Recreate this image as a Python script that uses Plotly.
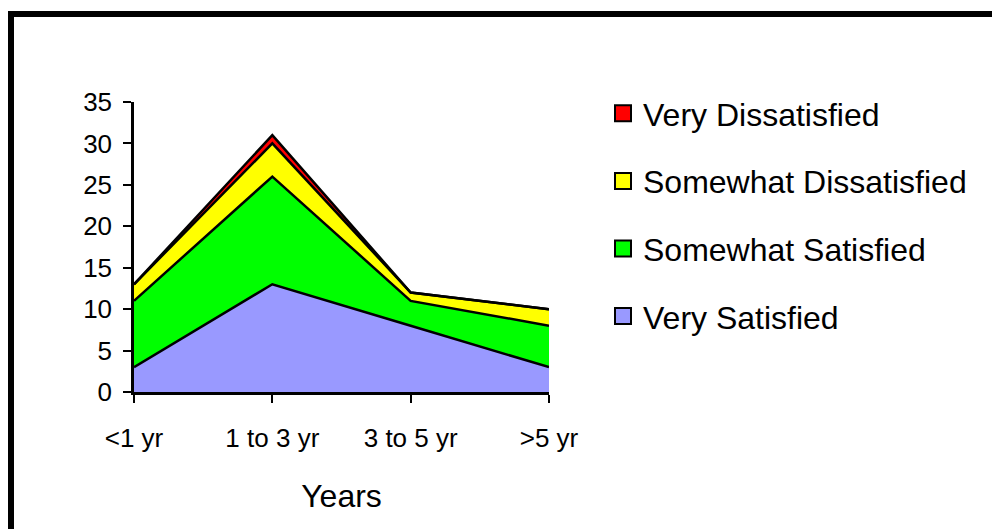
import plotly.graph_objects as go

categories = ["<1 yr", "1 to 3 yr", "3 to 5 yr", ">5 yr"]
very_satisfied = [3, 13, 8, 3]
somewhat_satisfied = [8, 13, 3, 5]
somewhat_dissatisfied = [2, 4, 1, 2]
very_dissatisfied = [0, 1, 0, 0]
y_ticks = [0, 5, 10, 15, 20, 25, 30, 35]

series = [
    ("Very Satisfied", very_satisfied, "#9999FF"),
    ("Somewhat Satisfied", somewhat_satisfied, "#00FF00"),
    ("Somewhat Dissatisfied", somewhat_dissatisfied, "#FFFF00"),
    ("Very Dissatisfied", very_dissatisfied, "#FF0000"),
]

FONT = "Arial, Liberation Sans, sans-serif"
fig = go.Figure()

for name, vals, col in series:
    fig.add_trace(go.Scatter(
        x=categories, y=vals, name=name, stackgroup="one", mode="lines",
        line=dict(color="black", width=2.5), fillcolor=col, showlegend=False,
    ))

# legend entries (top to bottom)
for i, (name, vals, col) in enumerate(reversed(series)):
    fig.add_trace(go.Scatter(
        x=[categories[0]], y=[None], name=name, mode="markers",
        marker=dict(symbol="square", size=16, color=col, line=dict(color="black", width=2)),
        legendgroup=f"g{i}", showlegend=True,
    ))

W, H = 992, 521
L, T, PW, PH = 126, 94, 415, 290
R = W - L - PW
B = H - T - PH
bottom = T + PH

fig.update_layout(
    width=W, height=H,
    margin=dict(l=L, r=R, t=T, b=B),
    paper_bgcolor="white", plot_bgcolor="white",
    font=dict(family=FONT, color="black"),
    showlegend=True,
    legend=dict(
        x=(595 - L) / PW, xanchor="left", y=(bottom - 78) / PH, yanchor="top",
        font=dict(size=32, family=FONT), traceorder="grouped",
        tracegroupgap=23, itemsizing="trace", bgcolor="rgba(0,0,0,0)",
    ),
    xaxis=dict(
        range=[0, 3], type="category", showline=True, linecolor="black", linewidth=2.5,
        ticks="outside", ticklen=8, tickwidth=2, tickcolor="black",
        showgrid=False, zeroline=False, tickfont=dict(size=26),
        ticklabelstandoff=13,
        title=dict(text="Years", font=dict(size=32), standoff=33),
    ),
    yaxis=dict(
        range=[0, 35], tickvals=y_ticks, showline=True, linecolor="black", linewidth=2.5,
        ticks="outside", ticklen=8, tickwidth=2, tickcolor="black",
        showgrid=False, zeroline=False, tickfont=dict(size=26),
        ticklabelstandoff=6,
    ),
    shapes=[dict(
        type="rect", xref="paper", yref="paper",
        x0=(3 - L) / PW, x1=(1010 - L) / PW,
        y0=(bottom - 545) / PH, y1=(bottom - 6) / PH,
        line=dict(color="black", width=6), fillcolor="rgba(0,0,0,0)",
    )],
)

fig.write_html("out.html")
